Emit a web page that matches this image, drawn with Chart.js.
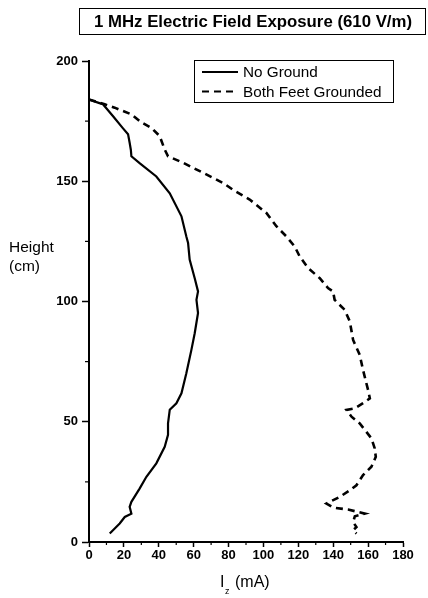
<!DOCTYPE html>
<html>
<head>
<meta charset="utf-8">
<title>1 MHz Electric Field Exposure</title>
<script src="https://cdn.jsdelivr.net/npm/chart.js@4.4.1/dist/chart.umd.min.js"></script>
<style>
    html, body { margin: 0; padding: 0; background: #fff; }
    #wrap { position: relative; width: 428px; height: 598px; }
</style>
</head>
<body>
<div id="wrap"><canvas id="fieldChart" width="428" height="598"></canvas></div>
<script>
// ---------- DATA ----------
const chartTitle = "1 MHz Electric Field Exposure (610 V/m)";
const seriesLabels = ["No Ground", "Both Feet Grounded"];

const xTicks = [0, 20, 40, 60, 80, 100, 120, 140, 160, 180];
const yTicks = [0, 50, 100, 150, 200];

// height (cm) / current (mA), traced top to bottom
const noGroundHeight = [184, 182.5, 182, 177, 172, 169.5, 166, 163, 160.4, 157.5, 152, 145, 135.4, 127, 124.3, 117.4, 109.7, 104.2, 100.7, 95.2, 86.8, 79.9, 70.2, 61.8, 57.7, 55, 49.3, 44.6, 39.6, 32.7, 27.1, 22.2, 16.7, 14.6, 11.8, 10.4, 7.7, 3.5];
const noGroundCurrent = [0, 6, 8, 13.8, 19.5, 22.4, 23.3, 24, 24.3, 29, 38.6, 46.3, 53, 55.8, 56.8, 57.7, 60.6, 62.5, 61.6, 62.5, 60.6, 58.7, 55.8, 53, 50.1, 46.3, 45.3, 45.3, 43.4, 38.6, 32.9, 29, 24.3, 23.3, 24.3, 20.5, 17.6, 11.9];

const groundedHeight = [184, 182, 180.6, 177.8, 174.5, 172.2, 168.8, 163.2, 160.4, 157.7, 153.5, 149.3, 146, 142.4, 136.8, 131.3, 127, 122.9, 118.7, 113.9, 109.7, 105.6, 104.2, 100.7, 96.5, 91.7, 84, 77.8, 71.5, 66, 63.2, 59.7, 57.7, 55.6, 54.9, 52.1, 49.3, 45.8, 43.1, 38.9, 35.4, 31.3, 27.8, 23.6, 21.5, 18.8, 17.4, 16, 14.3, 13.5, 11.8, 10.7, 8.3, 6.2, 4.9, 3.5];
const groundedCurrent = [0, 9, 14.7, 24.3, 30, 35.8, 40.5, 43.4, 45.3, 53.9, 65.4, 76.8, 83.5, 92.1, 101.7, 107.4, 113.2, 117.9, 120.8, 125.6, 132.3, 137, 139.9, 140.8, 146.6, 149.5, 151.4, 155.2, 157.1, 159, 160, 161, 157.1, 152.4, 147.6, 150.5, 155.2, 159, 161.9, 163.8, 164.4, 161.9, 157.1, 153.3, 149.5, 143.8, 140, 136.1, 140, 148.5, 158.1, 152.4, 151.4, 153.3, 151.4, 153.3];

const FONT = "'Liberation Sans', Arial, Helvetica, sans-serif";

function toPoints(xs, ys) {
    return xs.map((x, i) => ({ x: x, y: ys[i] }));
}

// ---------- DECORATIONS (title box, legend, axis titles, minor ticks) ----------
const decorPlugin = {
    id: "decor",
    afterDraw(chart) {
        const ctx = chart.ctx;
        const area = chart.chartArea;
        const xs = chart.scales.x;
        const ys = chart.scales.y;
        ctx.save();

        // minor ticks
        ctx.strokeStyle = "#000";
        ctx.lineWidth = 1.2;
        [25, 75, 125, 175].forEach(v => {
            const py = ys.getPixelForValue(v);
            ctx.beginPath();
            ctx.moveTo(area.left - 4, py);
            ctx.lineTo(area.left, py);
            ctx.stroke();
        });
        [10, 30, 50, 70, 90, 110, 130, 150, 170].forEach(v => {
            const px = xs.getPixelForValue(v);
            ctx.beginPath();
            ctx.moveTo(px, area.bottom);
            ctx.lineTo(px, area.bottom + 3);
            ctx.stroke();
        });

        // title box
        ctx.lineWidth = 1;
        ctx.strokeRect(79.5, 8.5, 346, 26);
        ctx.fillStyle = "#000";
        ctx.font = "bold 16.8px " + FONT;
        ctx.textAlign = "center";
        ctx.textBaseline = "middle";
        ctx.fillText(chartTitle, 253, 22);

        // legend
        ctx.strokeRect(194.5, 60.5, 199, 42);
        ctx.font = "15.3px " + FONT;
        ctx.textAlign = "left";
        const rows = [72, 91.5];
        chart.data.datasets.forEach((ds, i) => {
            ctx.beginPath();
            ctx.lineWidth = 2;
            ctx.setLineDash(ds.borderDash || []);
            ctx.moveTo(202, rows[i]);
            ctx.lineTo(238, rows[i]);
            ctx.stroke();
            ctx.setLineDash([]);
            ctx.fillText(ds.label, 243, rows[i] + 1);
        });

        // y axis title (horizontal)
        ctx.font = "15.5px " + FONT;
        ctx.fillText("Height", 9, 248);
        ctx.fillText("(cm)", 9, 267);

        // x axis title: I_z (mA)
        ctx.font = "16px " + FONT;
        ctx.fillText("I", 220, 583);
        ctx.font = "9px " + FONT;
        ctx.fillText("z", 225, 592);
        ctx.font = "16px " + FONT;
        ctx.fillText("(mA)", 235, 583);

        ctx.restore();
    }
};

// ---------- CHART ----------
document.addEventListener("DOMContentLoaded", function () {
    const canvas = document.getElementById("fieldChart");
    if (!canvas) return;

    new Chart(canvas.getContext("2d"), {
        type: "scatter",
        data: {
            datasets: [{
                label: seriesLabels[0],
                data: toPoints(noGroundCurrent, noGroundHeight),
                showLine: true,
                borderColor: "#000",
                borderWidth: 2.2,
                pointRadius: 0,
                tension: 0
            }, {
                label: seriesLabels[1],
                data: toPoints(groundedCurrent, groundedHeight),
                showLine: true,
                borderColor: "#000",
                borderWidth: 2.6,
                borderDash: [7, 5],
                pointRadius: 0,
                tension: 0
            }]
        },
        options: {
            responsive: false,
            animation: false,
            layout: { padding: { top: 61, right: 25, left: 0, bottom: 0 } },
            plugins: {
                legend: { display: false },
                title: { display: false },
                tooltip: { enabled: false }
            },
            scales: {
                x: {
                    type: "linear",
                    min: 0,
                    max: 180,
                    afterFit: scale => { scale.height = 56; },
                    afterBuildTicks: scale => { scale.ticks = xTicks.map(v => ({ value: v })); },
                    border: { display: true, color: "#000", width: 2 },
                    grid: { drawOnChartArea: false, drawTicks: true, tickLength: 5, tickColor: "#000", tickWidth: 1.5 },
                    ticks: { color: "#000", padding: 1, font: { family: FONT, size: 13, weight: "bold" } }
                },
                y: {
                    type: "linear",
                    min: 0,
                    max: 200,
                    afterFit: scale => { scale.width = 89; },
                    afterBuildTicks: scale => { scale.ticks = yTicks.map(v => ({ value: v })); },
                    border: { display: true, color: "#000", width: 2 },
                    grid: { drawOnChartArea: false, drawTicks: true, tickLength: 7, tickColor: "#000", tickWidth: 1.5 },
                    ticks: { color: "#000", padding: 4, font: { family: FONT, size: 13, weight: "bold" } }
                }
            }
        },
        plugins: [decorPlugin]
    });
});
</script>
</body>
</html>
